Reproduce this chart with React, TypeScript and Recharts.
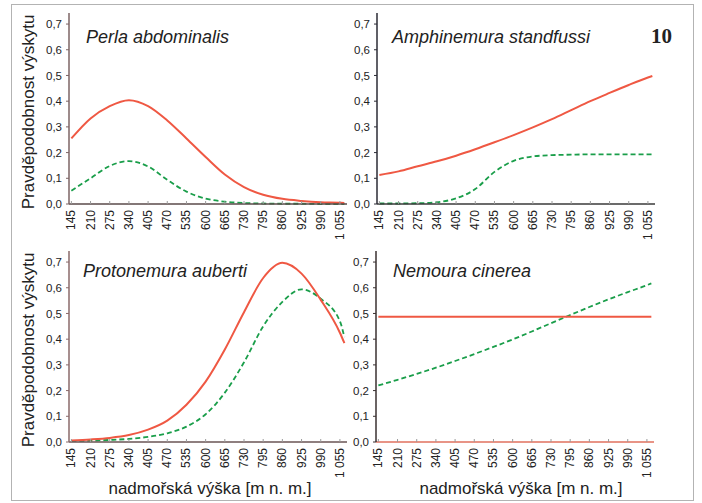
import React from "react";
import { LineChart, Line, XAxis, YAxis } from "recharts";

// altitude [m n. m.]
const altitude = [145, 210, 275, 340, 405, 470, 535, 600, 665, 730, 795, 860, 925, 990, 1055, 1070];
const xTicks = [145, 210, 275, 340, 405, 470, 535, 600, 665, 730, 795, 860, 925, 990, 1055];
const yTicks = [0, 0.1, 0.2, 0.3, 0.4, 0.5, 0.6, 0.7];

const perlaRed = [0.255, 0.333, 0.381, 0.404, 0.381, 0.325, 0.255, 0.183, 0.115, 0.066, 0.036, 0.02, 0.012, 0.007, 0.005, 0.004];
const perlaGreen = [0.052, 0.1, 0.148, 0.167, 0.146, 0.094, 0.048, 0.021, 0.009, 0.004, 0.002, 0.001, 0.001, 0, 0, 0];

const amphRed = [0.113, 0.127, 0.147, 0.166, 0.188, 0.213, 0.24, 0.268, 0.298, 0.33, 0.365, 0.4, 0.432, 0.463, 0.492, 0.498];
const amphGreen = [0.002, 0.002, 0.003, 0.007, 0.022, 0.058, 0.125, 0.168, 0.185, 0.19, 0.192, 0.193, 0.193, 0.193, 0.193, 0.193];

const protoRed = [0.006, 0.01, 0.016, 0.027, 0.048, 0.083, 0.145, 0.235, 0.36, 0.505, 0.638, 0.697, 0.655, 0.553, 0.425, 0.385];
const protoGreen = [0.004, 0.005, 0.008, 0.012, 0.02, 0.034, 0.06, 0.108, 0.192, 0.31, 0.45, 0.545, 0.594, 0.557, 0.47, 0.408];

const nemRed = [0.487, 0.487, 0.487, 0.487, 0.487, 0.487, 0.487, 0.487, 0.487, 0.487, 0.487, 0.487, 0.487, 0.487, 0.487, 0.487];
const nemGreen = [0.22, 0.242, 0.265, 0.289, 0.315, 0.342, 0.37, 0.399, 0.43, 0.462, 0.494, 0.525, 0.555, 0.583, 0.61, 0.617];

const toRows = (red: number[], green: number[]) =>
  altitude.map((a, i) => ({ alt: a, red: red[i], green: green[i] }));

const FONT = "'Liberation Sans', Arial, sans-serif";
const RED = "#ef5843";
const GREEN = "#1a9e4a";

function XTick({ x, y, payload }: any) {
  const v = payload.value as number;
  const label = v >= 1000 ? `${Math.floor(v / 1000)} ${String(v % 1000).padStart(3, "0")}` : String(v);
  return (
    <g>
      <line x1={x} y1={y} x2={x} y2={y - 3} stroke="#9a9a9a" />
      <text
        x={x}
        y={y + 6}
        transform={`rotate(-90 ${x} ${y + 6})`}
        textAnchor="end"
        dominantBaseline="central"
        fontSize={12}
        fontFamily={FONT}
        fill="#222"
      >
        {label}
      </text>
    </g>
  );
}

function Panel({ left, top, red, green, axisColor, xAxisColor }: any) {
  return (
    <div style={{ position: "absolute", left, top }}>
      <LineChart width={360} height={240} data={toRows(red, green)} margin={{ top: 13, right: 13, left: 0, bottom: 0 }}>
        <XAxis
          dataKey="alt"
          type="number"
          domain={[137, 1079]}
          ticks={xTicks}
          interval={0}
          height={36}
          tickSize={0}
          tickMargin={0}
          tickLine={false}
          axisLine={{ stroke: xAxisColor, strokeWidth: 1.5 }}
          tick={<XTick />}
        />
        <YAxis
          type="number"
          domain={[0, 0.743]}
          ticks={yTicks}
          width={69}
          tickSize={3}
          tickMargin={4}
          axisLine={{ stroke: axisColor, strokeWidth: 1.5 }}
          tickLine={{ stroke: axisColor }}
          tick={{ fontSize: 11.5, fill: "#222", fontFamily: FONT }}
          tickFormatter={(v: number) => v.toFixed(1).replace(".", ",")}
        />
        <Line type="monotone" dataKey="green" stroke={GREEN} strokeWidth={1.8} strokeDasharray="5 3" dot={false} isAnimationActive={false} />
        <Line type="monotone" dataKey="red" stroke={RED} strokeWidth={2} dot={false} isAnimationActive={false} />
      </LineChart>
    </div>
  );
}

export default function App() {
  const yTitle = "Pravděpodobnost výskytu";
  const xTitle = "nadmořská výška [m n. m.]";
  return (
    <div style={{ position: "absolute", left: 0, top: 0, width: 702, height: 503, background: "#fff", fontFamily: FONT }}>
      <div
        style={{
          position: "absolute",
          left: 11,
          top: 4,
          width: 683,
          height: 497,
          border: "1.5px solid #b3b3b3",
          boxSizing: "border-box",
        }}
      />
      <Panel left={0} top={0} red={perlaRed} green={perlaGreen} axisColor="#7d6464" xAxisColor="#5a4a4a" />
      <Panel left={308} top={0} red={amphRed} green={amphGreen} axisColor="#2b2b35" xAxisColor="#3a3a3a" />
      <Panel left={0} top={238} red={protoRed} green={protoGreen} axisColor="#8a6a6a" xAxisColor="#6a5555" />
      <Panel left={307} top={238} red={nemRed} green={nemGreen} axisColor="#3a3030" xAxisColor="#e0705e" />
      <svg width={702} height={503} style={{ position: "absolute", left: 0, top: 0, pointerEvents: "none" }}>
        <g fontFamily={FONT} fill="#222">
          <text x={28} y={112} transform="rotate(-90 28 112)" textAnchor="middle" dominantBaseline="central" fontSize={17}>
            {yTitle}
          </text>
          <text x={28} y={350} transform="rotate(-90 28 350)" textAnchor="middle" dominantBaseline="central" fontSize={17}>
            {yTitle}
          </text>
          <text x={210} y={494} textAnchor="middle" fontSize={17}>{xTitle}</text>
          <text x={521} y={494} textAnchor="middle" fontSize={17}>{xTitle}</text>
          <text x={86} y={43} fontSize={18} fontStyle="italic">Perla abdominalis</text>
          <text x={392} y={43} fontSize={18} fontStyle="italic">Amphinemura standfussi</text>
          <text x={83} y={277} fontSize={18} fontStyle="italic">Protonemura auberti</text>
          <text x={393} y={277} fontSize={18} fontStyle="italic">Nemoura cinerea</text>
          <text x={672} y={43} textAnchor="end" fontSize={21} fontWeight="bold" fontFamily="'Liberation Serif', 'DejaVu Serif', serif">10</text>
        </g>
      </svg>
    </div>
  );
}
